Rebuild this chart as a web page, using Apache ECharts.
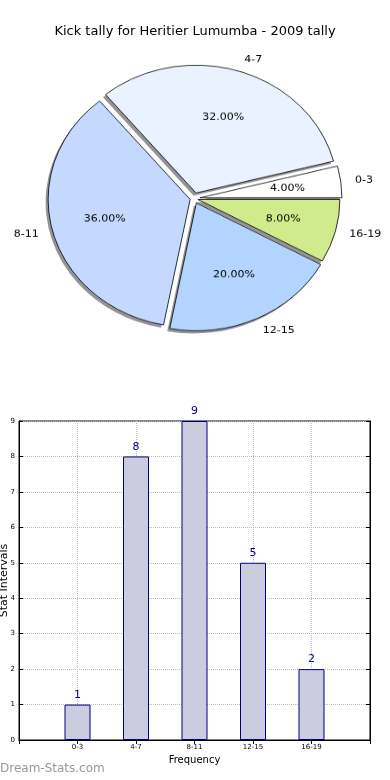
<!DOCTYPE html>
<html><head><meta charset="utf-8">
<script src="https://cdn.jsdelivr.net/npm/echarts@6/dist/echarts.min.js"></script>
<style>
html,body{margin:0;padding:0;background:#fff;}
#main{position:absolute;left:0;top:0;width:390px;height:780px;}
#pie{position:absolute;left:0;top:0;width:390px;height:400px;transform:scaleY(0.9);transform-origin:0 198.5px;}
</style>
</head><body>
<div id="main"></div><div id="pie"></div>
<script>
const title = 'Kick tally for Heritier Lumumba - 2009 tally';
const categories = ['0-3', '4-7', '8-11', '12-15', '16-19'];
const counts = [1, 8, 9, 5, 2];
const pieColors = ['#ffffff', '#eaf1ff', '#c5d9ff', '#b3d4ff', '#cfeb8b'];
const explodePx = [6, 6.5, 4, 5.5, 4];
const xAxisName = 'Frequency';
const yAxisName = 'Stat Intervals';
const watermark = 'Dream-Stats.com';

const FONT = 'DejaVu Sans';
const total = counts.reduce((a, b) => a + b, 0);
const R = 142, C = [194, 198.5];
const SHADOW_DX = -2.5, SHADOW_DY = 3.0;
const hidden = { color: 'rgba(0,0,0,0)', borderWidth: 0 };

const pieSeries = [];
categories.forEach((cat, i) => {
  const base = {
    type: 'pie', center: C, startAngle: 0, clockwise: false,
    selectedMode: 'multiple', selectedOffset: explodePx[i],
    avoidLabelOverlap: false, silent: true, animation: false,
    emphasis: { disabled: true }
  };
  pieSeries.push(Object.assign({}, base, {
    center: [C[0] + SHADOW_DX, C[1] + SHADOW_DY],
    radius: [0, R],
    label: { show: false }, labelLine: { show: false },
    data: counts.map((v, j) => ({
      name: categories[j], value: v, selected: j === i,
      itemStyle: j === i ? { color: 'rgba(40,40,50,0.5)', borderWidth: 0 } : hidden
    }))
  }));
  pieSeries.push(Object.assign({}, base, {
    radius: [0, R],
    label: { position: 'outside', fontFamily: FONT, fontSize: 11, color: '#000', distanceToLabelLine: 0, formatter: p => p.name },
    labelLine: { show: false, length: 0.1 * R, length2: 0 },
    data: counts.map((v, j) => ({
      name: categories[j], value: v, selected: j === i,
      itemStyle: j === i ? { color: pieColors[j], borderColor: '#000', borderWidth: 0.8 } : hidden,
      label: { show: j === i }
    }))
  }));
});
categories.forEach((cat, i) => {
  pieSeries.push({
    type: 'pie', center: C, startAngle: 0, clockwise: false,
    selectedMode: 'multiple', selectedOffset: explodePx[i],
    avoidLabelOverlap: false, silent: true, animation: false,
    emphasis: { disabled: true },
    radius: [0.2 * R, R], z: 5,
    label: { position: 'inside', fontFamily: FONT, fontSize: 11, color: '#000',
      formatter: p => (p.value / total * 100).toFixed(2) + '%' },
    labelLine: { show: false },
    data: counts.map((v, j) => ({
      name: categories[j], value: v, selected: j === i,
      itemStyle: hidden, label: { show: j === i }
    }))
  });
});

const pie = echarts.init(document.getElementById('pie'));
pie.setOption({ animation: false, series: pieSeries });

const padded = [''].concat(categories, ['']);
const paddedVals = ['-'].concat(counts, ['-']);
const main = echarts.init(document.getElementById('main'));
main.setOption({
  animation: false,
  backgroundColor: '#fff',
  title: { text: title, left: 'center', top: 20,
    textStyle: { fontFamily: FONT, fontSize: 13, fontWeight: 'normal', color: '#000' } },
  graphic: [{ type: 'text', left: 0, top: 763,
    style: { text: watermark, fontFamily: FONT, fontSize: 12, fontWeight: 'normal', fill: '#999' } }],
  grid: { left: 19, right: 20, top: 421, bottom: 40, show: true, borderColor: '#000', borderWidth: 1,
    containLabel: false, outerBoundsMode: 'none' },
  xAxis: [{
    type: 'category', data: padded, boundaryGap: false,
    name: xAxisName, nameLocation: 'middle', nameGap: 15, nameMoveOverlap: false,
    nameTextStyle: { fontFamily: FONT, fontSize: 10, color: '#000' },
    axisLine: { lineStyle: { color: '#000', width: 1 } },
    axisTick: { inside: true, length: 4, lineStyle: { color: '#000' } },
    axisLabel: { fontFamily: FONT, fontSize: 7, color: '#000', margin: 4, interval: 0 },
    splitLine: { show: true, lineStyle: { type: 'dotted', color: '#bbb', width: 1 } }
  }, {
    type: 'category', data: padded, boundaryGap: false, position: 'top',
    axisLine: { lineStyle: { color: '#000' } },
    axisTick: { inside: true, length: 4, lineStyle: { color: '#000' } },
    axisLabel: { show: false }, splitLine: { show: false }
  }],
  yAxis: [{
    type: 'value', min: 0, max: 9, interval: 1,
    name: yAxisName, nameLocation: 'middle', nameGap: 9, nameMoveOverlap: false,
    nameTextStyle: { fontFamily: FONT, fontSize: 11, color: '#000' },
    axisLine: { show: true, lineStyle: { color: '#000' } },
    axisTick: { show: true, inside: true, length: 4, lineStyle: { color: '#000' } },
    axisLabel: { fontFamily: FONT, fontSize: 7, color: '#000', margin: 4 },
    splitLine: { show: true, lineStyle: { type: 'dotted', color: '#bbb', width: 1 } }
  }, {
    type: 'value', min: 0, max: 9, interval: 1, position: 'right',
    axisLine: { show: true, lineStyle: { color: '#000' } },
    axisTick: { show: true, inside: true, length: 4, lineStyle: { color: '#000' } },
    axisLabel: { show: false }, splitLine: { show: false }
  }],
  series: [{
    type: 'bar', data: paddedVals, barWidth: 26, xAxisIndex: 0, yAxisIndex: 0,
    itemStyle: { color: '#ccccdf', borderColor: '#000080', borderWidth: 1 },
    label: { show: true, position: 'top', distance: 4, color: '#000080', fontFamily: FONT, fontSize: 11 }
  }]
});
</script>
</body></html>
